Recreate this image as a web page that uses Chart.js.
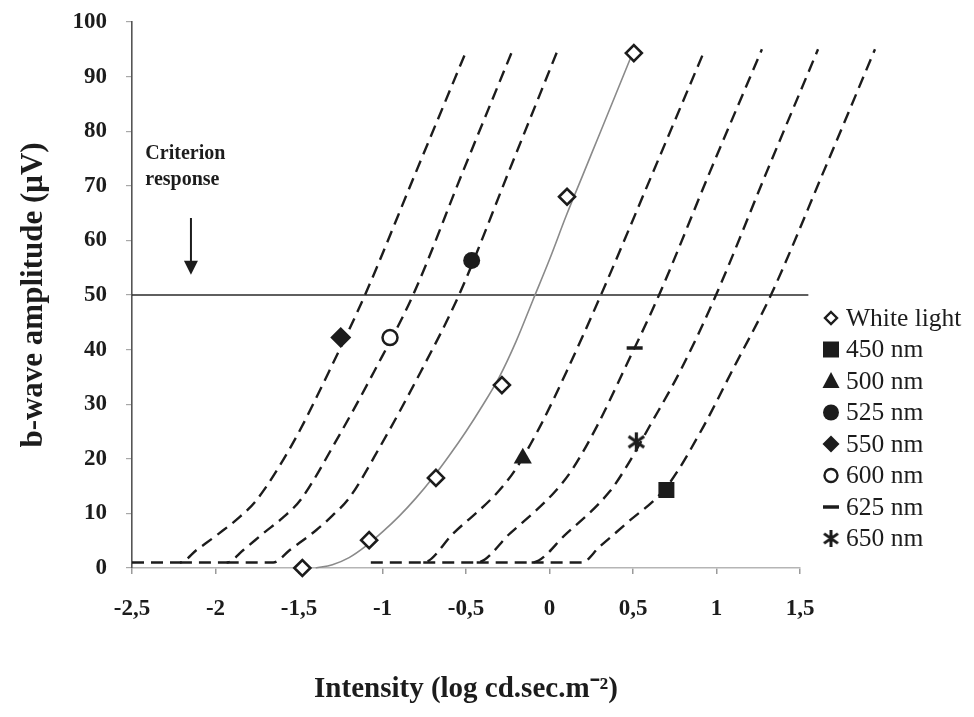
<!DOCTYPE html>
<html><head><meta charset="utf-8">
<script src="https://cdn.jsdelivr.net/npm/chart.js@4"></script>
<style>html,body{margin:0;padding:0;background:#fff;}</style>
</head><body>
<canvas id="c" width="974" height="717"></canvas>
<script>
// ---------- DATA ----------
const xTickValues = [-2.5, -2, -1.5, -1, -0.5, 0, 0.5, 1, 1.5];
const xTickLabels = ['-2,5', '-2', '-1,5', '-1', '-0,5', '0', '0,5', '1', '1,5'];
const yTickValues = [0, 10, 20, 30, 40, 50, 60, 70, 80, 90, 100];
const yTickLabels = ['0', '10', '20', '30', '40', '50', '60', '70', '80', '90', '100'];

const seriesNames = ['White light', '450 nm', '500 nm', '525 nm', '550 nm', '600 nm', '625 nm', '650 nm'];

// measured points
const whiteX = [-1.48, -1.08, -0.68, -0.285, 0.105, 0.505];
const whiteY = [0, 5.1, 16.5, 33.5, 68, 94.3];
const nm450X = [0.70];  const nm450Y = [14.3];
const nm500X = [-0.16]; const nm500Y = [20.1];
const nm525X = [-0.466]; const nm525Y = [56.3];
const nm550X = [-1.25]; const nm550Y = [42.2];
const nm600X = [-0.955]; const nm600Y = [42.2];
const nm625X = [0.51];  const nm625Y = [40.3];
const nm650X = [0.52];  const nm650Y = [23.1];

// fitted white-light curve (solid grey)
const whiteFitX = [-1.40, -1.30, -1.20, -1.10, -1.00, -0.90, -0.80, -0.70, -0.60, -0.50, -0.40, -0.30, -0.20, -0.10, 0.00, 0.10, 0.20, 0.30, 0.40, 0.50];
const whiteFitY = [0, 0.6, 1.9, 4.0, 6.6, 9.5, 12.8, 16.5, 20.6, 25.0, 29.8, 35.0, 41.5, 49.0, 56.5, 64.5, 72.0, 79.5, 87.0, 94.5];

// dashed template curves for each wavelength
const curve550X = [-2.50, -2.213, -2.113, -1.98, -1.853, -1.753, -1.536, -1.32, -1.105, -0.80, -0.494];
const curve550Y = [1, 1, 3.3, 6.3, 9.4, 12.5, 22.9, 36, 50, 72.5, 95];
const curve600X = [-2.213, -1.933, -1.833, -1.714, -1.59, -1.49, -1.285, -1.05, -0.817, -0.52, -0.219];
const curve600Y = [1, 1, 3.3, 6.35, 9.4, 12.5, 22.9, 36, 50, 72.5, 95];
const curve525X = [-1.933, -1.654, -1.555, -1.394, -1.30, -1.20, -1.015, -0.77, -0.542, -0.245, 0.051];
const curve525Y = [1, 1, 3.3, 7, 9.6, 12.8, 22.2, 36, 50, 72.5, 95];
const curve500X = [-1.07, -0.756, -0.576, -0.316, -0.207, -0.057, 0.11, 0.308, 0.62, 0.931];
const curve500Y = [1, 1, 6.35, 13.7, 17.9, 25.9, 36.5, 50, 72.5, 95];
const curve625X = [-0.756, -0.436, -0.236, 0.024, 0.133, 0.283, 0.45, 0.656, 0.96, 1.272];
const curve625Y = [1, 1, 6.35, 13.7, 17.9, 25.9, 36.5, 50, 72.5, 95];
const curve650X = [-0.436, -0.107, 0.103, 0.36, 0.46, 0.60, 0.79, 0.997, 1.30, 1.608];
const curve650Y = [1, 1, 6.35, 14, 18.5, 26, 36.5, 50, 72.5, 95];
const curve450X = [-0.107, 0.193, 0.30, 0.462, 0.702, 0.90, 1.10, 1.326, 1.64, 1.949];
const curve450Y = [1, 1, 3.9, 8.2, 14.9, 24.7, 36.5, 50, 72.5, 95];

// criterion line and annotation
const criterionX = [-2.5, 1.55];
const criterionY = [50, 50];
const criterionText = ['Criterion', 'response'];
const criterionTextX = -2.42;
const criterionTextY = [74.9, 70.1];
const arrowX = -2.147, arrowFromY = 64.1, arrowToY = 53.7;

// axis ranges
const xRange = [-2.5, 1.5];
const yRange = [0, 100];

// ---------- RENDER ----------
const INK = '#1c1c1c';
const FONT = "'Liberation Serif', 'Times New Roman', serif";
Chart.defaults.font.family = FONT;
Chart.defaults.color = INK;

const pts = (xs, ys) => xs.map((x, i) => ({x, y: ys[i]}));

function makeStar(size, lw) {
  const c = document.createElement('canvas');
  c.width = c.height = size;
  const g = c.getContext('2d');
  g.strokeStyle = INK; g.lineWidth = lw;
  const r = size / 2 - 1, m = size / 2;
  [90, 35, 145].forEach(a => {
    const t = a * Math.PI / 180;
    g.beginPath();
    g.moveTo(m + r * Math.cos(t), m - r * Math.sin(t));
    g.lineTo(m - r * Math.cos(t), m + r * Math.sin(t));
    g.stroke();
  });
  return c;
}
const starImg = makeStar(21, 3.2);
const starLegend = makeStar(19, 3);

function markerDS(label, xs, ys, style, radius, filled, bw) {
  return {
    label, data: pts(xs, ys), showLine: false, order: 0,
    pointStyle: style, pointRadius: radius, pointHoverRadius: radius,
    pointBackgroundColor: filled ? INK : '#fff', pointBorderColor: INK,
    pointBorderWidth: bw
  };
}
function dashDS(xs, ys) {
  return {
    label: '', data: pts(xs, ys), showLine: true, order: 2, clip: false,
    borderColor: INK, borderWidth: 2.4, borderDash: [12, 7],
    pointRadius: 0, cubicInterpolationMode: 'monotone'
  };
}

const datasets = [
  markerDS(seriesNames[0], whiteX, whiteY, 'rectRot', 8, false, 2.6),
  markerDS(seriesNames[1], nm450X, nm450Y, 'rect', 11.3, true, 0),
  markerDS(seriesNames[2], nm500X, nm500Y, 'triangle', 10.5, true, 0),
  markerDS(seriesNames[3], nm525X, nm525Y, 'circle', 8.5, true, 0),
  markerDS(seriesNames[4], nm550X, nm550Y, 'rectRot', 10.5, true, 0),
  markerDS(seriesNames[5], nm600X, nm600Y, 'circle', 7.5, false, 2.5),
  markerDS(seriesNames[6], nm625X, nm625Y, 'line', 8, true, 3.5),
  markerDS(seriesNames[7], nm650X, nm650Y, starImg, 10, true, 0),
  { label: '', data: pts(whiteFitX, whiteFitY), showLine: true, order: 1,
    borderColor: '#8a8a8a', borderWidth: 1.6, pointRadius: 0, cubicInterpolationMode: 'monotone' },
  dashDS(curve550X, curve550Y),
  dashDS(curve600X, curve600Y),
  dashDS(curve525X, curve525Y),
  dashDS(curve500X, curve500Y),
  dashDS(curve625X, curve625Y),
  dashDS(curve650X, curve650Y),
  dashDS(curve450X, curve450Y),
  { label: '', data: pts(criterionX, criterionY), showLine: true, order: 3, clip: false,
    borderColor: '#2a2a2a', borderWidth: 1.6, pointRadius: 0 }
];

const annotPlugin = {
  id: 'annot',
  afterDatasetsDraw(chart) {
    const {ctx, scales: {x, y}} = chart;
    ctx.save();
    ctx.fillStyle = INK;
    ctx.font = "bold 20px " + FONT;
    ctx.textAlign = 'left';
    ctx.textBaseline = 'alphabetic';
    criterionText.forEach((t, i) => ctx.fillText(t, x.getPixelForValue(criterionTextX), y.getPixelForValue(criterionTextY[i])));
    const ax = x.getPixelForValue(arrowX);
    const y0 = y.getPixelForValue(arrowFromY), y1 = y.getPixelForValue(arrowToY);
    ctx.strokeStyle = INK; ctx.lineWidth = 2;
    ctx.beginPath(); ctx.moveTo(ax, y0); ctx.lineTo(ax, y1 - 12); ctx.stroke();
    ctx.beginPath(); ctx.moveTo(ax - 7, y1 - 14); ctx.lineTo(ax + 7, y1 - 14); ctx.lineTo(ax, y1); ctx.closePath(); ctx.fill();
    ctx.restore();
  }
};

function legendMarker(ctx, i, x, y) {
  ctx.save();
  ctx.fillStyle = INK; ctx.strokeStyle = INK;
  ctx.beginPath();
  switch (i) {
    case 0: { const r = 6; ctx.lineWidth = 2.4; ctx.fillStyle = '#fff';
      ctx.moveTo(x, y - r); ctx.lineTo(x + r, y); ctx.lineTo(x, y + r); ctx.lineTo(x - r, y); ctx.closePath(); ctx.fill(); ctx.stroke(); break; }
    case 1: ctx.rect(x - 8, y - 8, 16, 16); ctx.fill(); break;
    case 2: ctx.moveTo(x, y - 9); ctx.lineTo(x + 8.5, y + 7); ctx.lineTo(x - 8.5, y + 7); ctx.closePath(); ctx.fill(); break;
    case 3: ctx.arc(x, y, 8, 0, Math.PI * 2); ctx.fill(); break;
    case 4: { const r = 8.5; ctx.moveTo(x, y - r); ctx.lineTo(x + r, y); ctx.lineTo(x, y + r); ctx.lineTo(x - r, y); ctx.closePath(); ctx.fill(); break; }
    case 5: ctx.lineWidth = 2.4; ctx.arc(x, y, 6.5, 0, Math.PI * 2); ctx.stroke(); break;
    case 6: ctx.lineWidth = 3.5; ctx.moveTo(x - 8, y); ctx.lineTo(x + 8, y); ctx.stroke(); break;
    case 7: ctx.drawImage(starLegend, x - starLegend.width / 2, y - starLegend.height / 2); break;
  }
  ctx.restore();
}

const legendPlugin = {
  id: 'customLegend',
  afterDraw(chart) {
    const ctx = chart.ctx;
    const mx = chart.chartArea.right + 31, tx = mx + 15, y0 = 318, dy = 31.5;
    ctx.save();
    ctx.font = "25.5px " + FONT;
    ctx.fillStyle = INK;
    ctx.textAlign = 'left';
    ctx.textBaseline = 'middle';
    seriesNames.forEach((name, i) => {
      const yy = y0 + i * dy;
      legendMarker(ctx, i, mx, yy);
      ctx.fillText(name, tx, yy + 1);
    });
    ctx.restore();
  }
};

new Chart(document.getElementById('c'), {
  type: 'scatter',
  data: { datasets },
  options: {
    responsive: false,
    animation: false,
    devicePixelRatio: 1,
    layout: { padding: { left: 0, right: 174, top: 22, bottom: 0 } },
    plugins: { legend: { display: false }, tooltip: { enabled: false } },
    scales: {
      x: {
        type: 'linear',
        afterDataLimits: s => { s.min = xRange[0]; s.max = xRange[1]; },
        afterBuildTicks: s => { s.ticks = xTickValues.map(v => ({value: v})); },
        afterFit: s => { s.height = 149; s.paddingLeft = 0; s.paddingRight = 0; },
        ticks: {
          padding: 21, color: INK,
          font: { size: 23, weight: 'bold', family: FONT },
          callback: (v) => { const i = xTickValues.findIndex(t => Math.abs(t - v) < 1e-6); return i >= 0 ? xTickLabels[i] : ''; },
          maxRotation: 0, autoSkip: false
        },
        grid: { display: true, drawOnChartArea: false, drawTicks: true, tickLength: 6, color: '#9a9a9a', lineWidth: 1.5 },
        border: { display: true, color: '#b5b5b5', width: 1.5 },
        title: {
          display: true, text: 'Intensity (log cd.sec.m⁻²)', color: INK,
          font: { size: 29, weight: 'bold', family: FONT, lineHeight: 1.2 },
          padding: { top: 0, bottom: 10 }
        }
      },
      y: {
        type: 'linear',
        afterDataLimits: s => { s.min = yRange[0]; s.max = yRange[1]; },
        afterBuildTicks: s => { s.ticks = yTickValues.map(v => ({value: v})); },
        afterFit: s => { s.width = 132; s.paddingTop = 0; s.paddingBottom = 0; },
        ticks: {
          padding: 19, color: INK,
          font: { size: 23, weight: 'bold', family: FONT },
          callback: (v) => { const i = yTickValues.indexOf(v); return i >= 0 ? yTickLabels[i] : ''; },
          autoSkip: false
        },
        grid: { display: true, drawOnChartArea: false, drawTicks: true, tickLength: 6, color: '#a8a8a8', lineWidth: 1.2 },
        border: { display: true, color: '#555', width: 1.6 },
        title: {
          display: true, text: 'b-wave amplitude (μV)', color: INK,
          font: { size: 31, weight: 'bold', family: FONT, lineHeight: 1.2 },
          padding: { top: 15, bottom: 0 }
        }
      }
    }
  },
  plugins: [annotPlugin, legendPlugin]
});
</script>
</body></html>
